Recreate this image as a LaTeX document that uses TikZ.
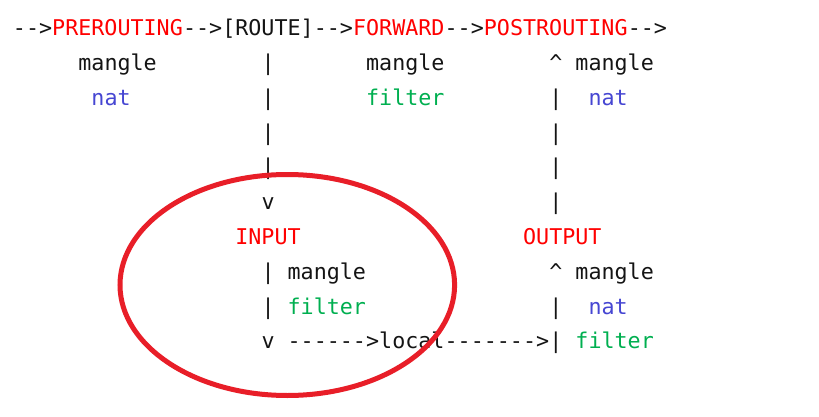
\documentclass[tikz,border=0pt]{standalone}
\usepackage{fontspec}
\newfontfamily\monofnt{DejaVu Sans Mono}[Ligatures=TeXOff]
\usetikzlibrary{shapes.geometric}
\definecolor{txtred}{RGB}{255,0,0}
\definecolor{txtblue}{RGB}{70,70,210}
\definecolor{txtgreen}{RGB}{0,175,80}
\definecolor{ringred}{RGB}{232,30,40}
\definecolor{ink}{RGB}{20,20,20}
\tikzset{
  t/.style={anchor=base west, inner sep=0pt, outer sep=0pt, text=ink, font=\monofnt\fontsize{21.7}{26}\selectfont},
  chain/.style={t, text=txtred},
  tnat/.style={t, text=txtblue},
  tfilter/.style={t, text=txtgreen},
  ring/.style={draw=ringred, line width=5pt, ellipse, minimum width=334.6pt, minimum height=221pt, inner sep=0pt}
}
\begin{document}
\begin{tikzpicture}[x=13.08pt, y=-34.75pt]
\useasboundingbox (-13pt,36pt) rectangle (806pt,-381pt);
% row 0
\node[t] (a0) at (0,0) {-->};
\node[chain] (pre) at (3,0) {PREROUTING};
\node[t] (a1) at (13,0) {-->};
\node[t] (route) at (16,0) {[ROUTE]};
\node[t] (a2) at (23,0) {-->};
\node[chain] (fwd) at (26,0) {FORWARD};
\node[t] (a3) at (33,0) {-->};
\node[chain] (post) at (36,0) {POSTROUTING};
\node[t] (a4) at (47,0) {-->};
% row 1
\node[t] (m1) at (5,1) {mangle};
\node[t] (b11) at (19,1) {|};
\node[t] (m2) at (27,1) {mangle};
\node[t] (c1) at (41,1) {\textasciicircum};
\node[t] (m3) at (43,1) {mangle};
% row 2
\node[tnat] (n1) at (6,2) {nat};
\node[t] (b12) at (19,2) {|};
\node[tfilter] (f1) at (27,2) {filter};
\node[t] (b21) at (41,2) {|};
\node[tnat] (n2) at (44,2) {nat};
% rows 3-5
\node[t] (b13) at (19,3) {|};
\node[t] (b22) at (41,3) {|};
\node[t] (b14) at (19,4) {|};
\node[t] (b23) at (41,4) {|};
\node[t] (v1) at (19,5) {v};
\node[t] (b24) at (41,5) {|};
% row 6
\node[chain] (input) at (17,6) {INPUT};
\node[chain] (output) at (39,6) {OUTPUT};
% row 7
\node[t] (b15) at (19,7) {|};
\node[t] (m4) at (21,7) {mangle};
\node[t] (c2) at (41,7) {\textasciicircum};
\node[t] (m5) at (43,7) {mangle};
% row 8
\node[t] (b16) at (19,8) {|};
\node[tfilter] (f2) at (21,8) {filter};
\node[t] (b25) at (41,8) {|};
\node[tnat] (n3) at (44,8) {nat};
% row 9
\node[t] (v2) at (19,9) {v};
\node[t] (arr1) at (21,9) {------>};
\node[t] (local) at (28,9) {local};
\node[t] (arr2) at (33,9) {------->};
\node[t] (b26) at (41,9) {|};
\node[tfilter] (f3) at (43,9) {filter};
% ring
\node[ring] (circle) at (274.3pt,-249pt) {};
\end{tikzpicture}
\end{document}
